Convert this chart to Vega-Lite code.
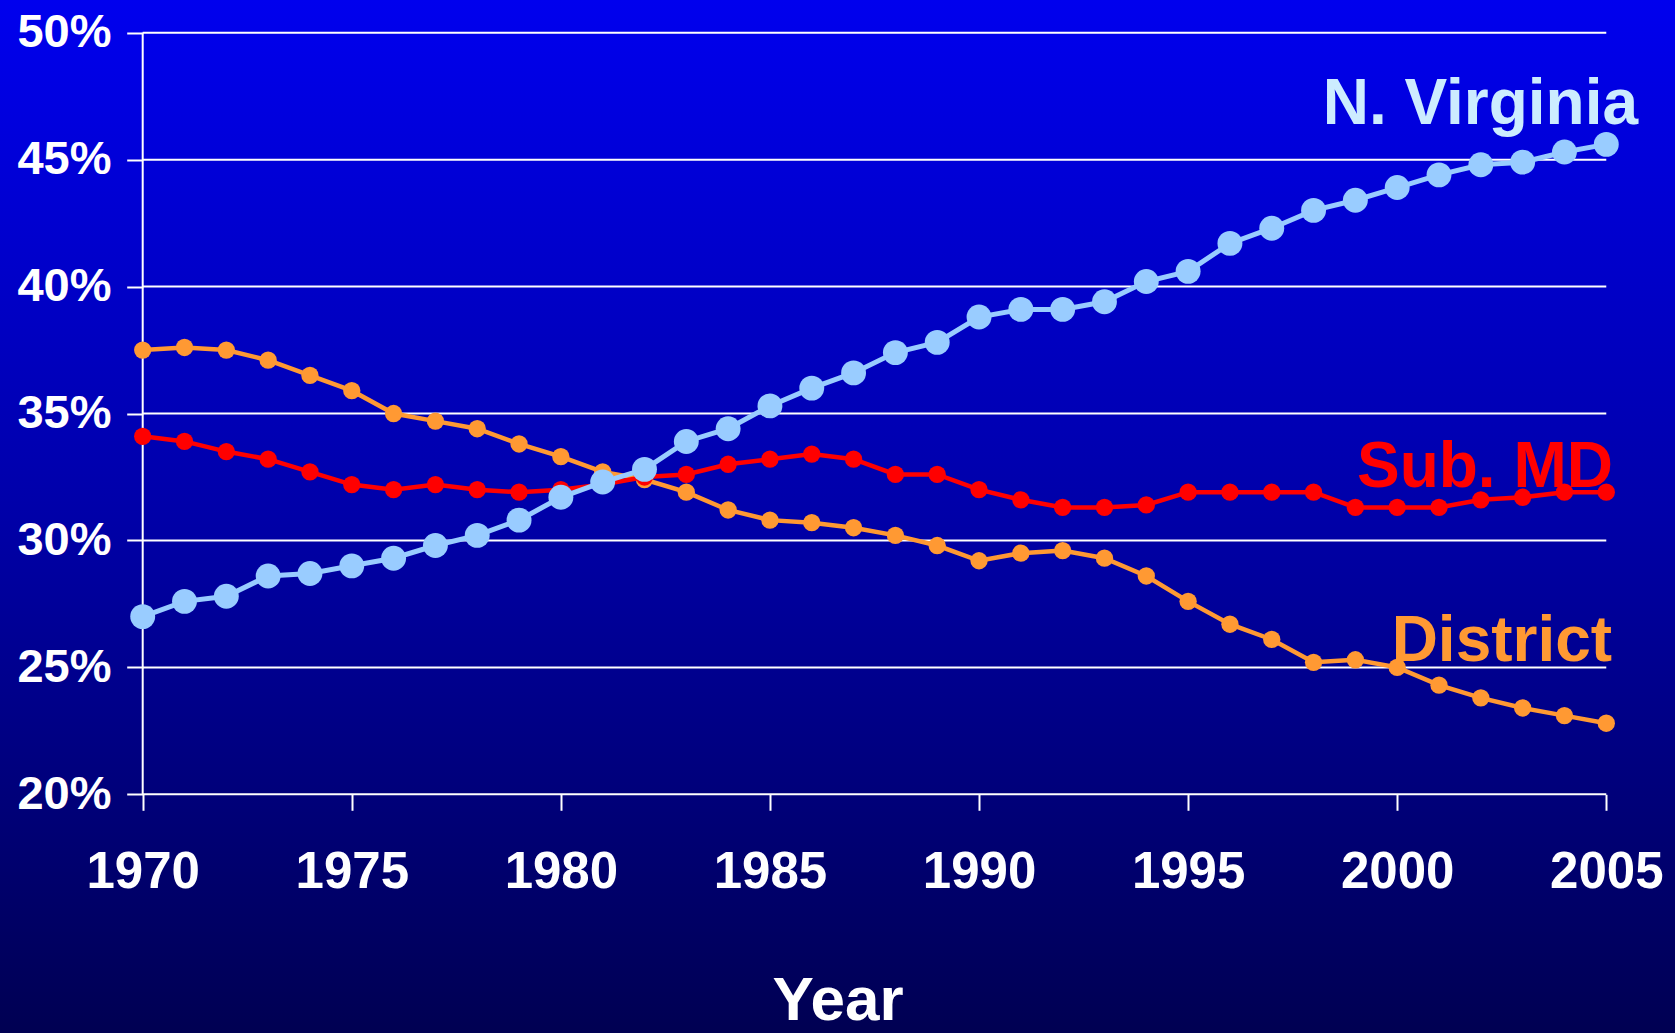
{
  "$schema": "https://vega.github.io/schema/vega-lite/v6.json",
  "width": 1675,
  "height": 1033,
  "autosize": "none",
  "padding": 0,
  "background": "#000060",
  "datasets": {
    "shares": [
      {"year": 1970, "series": "District", "value": 37.5},
      {"year": 1971, "series": "District", "value": 37.6},
      {"year": 1972, "series": "District", "value": 37.5},
      {"year": 1973, "series": "District", "value": 37.1},
      {"year": 1974, "series": "District", "value": 36.5},
      {"year": 1975, "series": "District", "value": 35.9},
      {"year": 1976, "series": "District", "value": 35.0},
      {"year": 1977, "series": "District", "value": 34.7},
      {"year": 1978, "series": "District", "value": 34.4},
      {"year": 1979, "series": "District", "value": 33.8},
      {"year": 1980, "series": "District", "value": 33.3},
      {"year": 1981, "series": "District", "value": 32.7},
      {"year": 1982, "series": "District", "value": 32.4},
      {"year": 1983, "series": "District", "value": 31.9},
      {"year": 1984, "series": "District", "value": 31.2},
      {"year": 1985, "series": "District", "value": 30.8},
      {"year": 1986, "series": "District", "value": 30.7},
      {"year": 1987, "series": "District", "value": 30.5},
      {"year": 1988, "series": "District", "value": 30.2},
      {"year": 1989, "series": "District", "value": 29.8},
      {"year": 1990, "series": "District", "value": 29.2},
      {"year": 1991, "series": "District", "value": 29.5},
      {"year": 1992, "series": "District", "value": 29.6},
      {"year": 1993, "series": "District", "value": 29.3},
      {"year": 1994, "series": "District", "value": 28.6},
      {"year": 1995, "series": "District", "value": 27.6},
      {"year": 1996, "series": "District", "value": 26.7},
      {"year": 1997, "series": "District", "value": 26.1},
      {"year": 1998, "series": "District", "value": 25.2},
      {"year": 1999, "series": "District", "value": 25.3},
      {"year": 2000, "series": "District", "value": 25.0},
      {"year": 2001, "series": "District", "value": 24.3},
      {"year": 2002, "series": "District", "value": 23.8},
      {"year": 2003, "series": "District", "value": 23.4},
      {"year": 2004, "series": "District", "value": 23.1},
      {"year": 2005, "series": "District", "value": 22.8},
      {"year": 1970, "series": "Sub. MD", "value": 34.1},
      {"year": 1971, "series": "Sub. MD", "value": 33.9},
      {"year": 1972, "series": "Sub. MD", "value": 33.5},
      {"year": 1973, "series": "Sub. MD", "value": 33.2},
      {"year": 1974, "series": "Sub. MD", "value": 32.7},
      {"year": 1975, "series": "Sub. MD", "value": 32.2},
      {"year": 1976, "series": "Sub. MD", "value": 32.0},
      {"year": 1977, "series": "Sub. MD", "value": 32.2},
      {"year": 1978, "series": "Sub. MD", "value": 32.0},
      {"year": 1979, "series": "Sub. MD", "value": 31.9},
      {"year": 1980, "series": "Sub. MD", "value": 32.0},
      {"year": 1981, "series": "Sub. MD", "value": 32.2},
      {"year": 1982, "series": "Sub. MD", "value": 32.5},
      {"year": 1983, "series": "Sub. MD", "value": 32.6},
      {"year": 1984, "series": "Sub. MD", "value": 33.0},
      {"year": 1985, "series": "Sub. MD", "value": 33.2},
      {"year": 1986, "series": "Sub. MD", "value": 33.4},
      {"year": 1987, "series": "Sub. MD", "value": 33.2},
      {"year": 1988, "series": "Sub. MD", "value": 32.6},
      {"year": 1989, "series": "Sub. MD", "value": 32.6},
      {"year": 1990, "series": "Sub. MD", "value": 32.0},
      {"year": 1991, "series": "Sub. MD", "value": 31.6},
      {"year": 1992, "series": "Sub. MD", "value": 31.3},
      {"year": 1993, "series": "Sub. MD", "value": 31.3},
      {"year": 1994, "series": "Sub. MD", "value": 31.4},
      {"year": 1995, "series": "Sub. MD", "value": 31.9},
      {"year": 1996, "series": "Sub. MD", "value": 31.9},
      {"year": 1997, "series": "Sub. MD", "value": 31.9},
      {"year": 1998, "series": "Sub. MD", "value": 31.9},
      {"year": 1999, "series": "Sub. MD", "value": 31.3},
      {"year": 2000, "series": "Sub. MD", "value": 31.3},
      {"year": 2001, "series": "Sub. MD", "value": 31.3},
      {"year": 2002, "series": "Sub. MD", "value": 31.6},
      {"year": 2003, "series": "Sub. MD", "value": 31.7},
      {"year": 2004, "series": "Sub. MD", "value": 31.9},
      {"year": 2005, "series": "Sub. MD", "value": 31.9},
      {"year": 1970, "series": "N. Virginia", "value": 27.0},
      {"year": 1971, "series": "N. Virginia", "value": 27.6},
      {"year": 1972, "series": "N. Virginia", "value": 27.8},
      {"year": 1973, "series": "N. Virginia", "value": 28.6},
      {"year": 1974, "series": "N. Virginia", "value": 28.7},
      {"year": 1975, "series": "N. Virginia", "value": 29.0},
      {"year": 1976, "series": "N. Virginia", "value": 29.3},
      {"year": 1977, "series": "N. Virginia", "value": 29.8},
      {"year": 1978, "series": "N. Virginia", "value": 30.2},
      {"year": 1979, "series": "N. Virginia", "value": 30.8},
      {"year": 1980, "series": "N. Virginia", "value": 31.7},
      {"year": 1981, "series": "N. Virginia", "value": 32.3},
      {"year": 1982, "series": "N. Virginia", "value": 32.8},
      {"year": 1983, "series": "N. Virginia", "value": 33.9},
      {"year": 1984, "series": "N. Virginia", "value": 34.4},
      {"year": 1985, "series": "N. Virginia", "value": 35.3},
      {"year": 1986, "series": "N. Virginia", "value": 36.0},
      {"year": 1987, "series": "N. Virginia", "value": 36.6},
      {"year": 1988, "series": "N. Virginia", "value": 37.4},
      {"year": 1989, "series": "N. Virginia", "value": 37.8},
      {"year": 1990, "series": "N. Virginia", "value": 38.8},
      {"year": 1991, "series": "N. Virginia", "value": 39.1},
      {"year": 1992, "series": "N. Virginia", "value": 39.1},
      {"year": 1993, "series": "N. Virginia", "value": 39.4},
      {"year": 1994, "series": "N. Virginia", "value": 40.2},
      {"year": 1995, "series": "N. Virginia", "value": 40.6},
      {"year": 1996, "series": "N. Virginia", "value": 41.7},
      {"year": 1997, "series": "N. Virginia", "value": 42.3},
      {"year": 1998, "series": "N. Virginia", "value": 43.0},
      {"year": 1999, "series": "N. Virginia", "value": 43.4},
      {"year": 2000, "series": "N. Virginia", "value": 43.9},
      {"year": 2001, "series": "N. Virginia", "value": 44.4},
      {"year": 2002, "series": "N. Virginia", "value": 44.8},
      {"year": 2003, "series": "N. Virginia", "value": 44.9},
      {"year": 2004, "series": "N. Virginia", "value": 45.3},
      {"year": 2005, "series": "N. Virginia", "value": 45.6}
    ],
    "grid": [
      {"value": 20}, {"value": 25}, {"value": 30}, {"value": 35},
      {"value": 40}, {"value": 45}, {"value": 50}
    ],
    "labels": [
      {"year": 2005.76, "value": 46.4, "series": "N. Virginia", "label": "N. Virginia"},
      {"year": 2005.16, "value": 32.1, "series": "Sub. MD", "label": "Sub. MD"},
      {"year": 2005.14, "value": 25.25, "series": "District", "label": "District"}
    ]
  },
  "layer": [
    {
      "data": {"values": [{}]},
      "mark": {
        "type": "rect",
        "fill": {
          "gradient": "linear",
          "x1": 0, "y1": 0, "x2": 0, "y2": 1,
          "stops": [
            {"offset": 0, "color": "#0000EE"},
            {"offset": 0.5, "color": "#0000A8"},
            {"offset": 1, "color": "#000052"}
          ]
        }
      },
      "encoding": {
        "x": {
          "datum": 1966.5875,
          "type": "quantitative",
          "scale": {"domain": [1966.5875, 2006.6435], "nice": false, "zero": false},
          "axis": {
            "zindex": 2,
            "values": [1970, 1975, 1980, 1985, 1990, 1995, 2000, 2005],
            "format": "d",
            "title": "Year",
            "offset": -238.7,
            "labelPadding": 37,
            "labelFontSize": 51,
            "titleFontSize": 62,
            "titleBaseline": "alphabetic",
            "titleY": 225.5
          }
        },
        "x2": {"datum": 2006.6435},
        "y": {
          "datum": 51.288,
          "type": "quantitative",
          "scale": {"domain": [10.598, 51.288], "nice": false, "zero": false},
          "axis": {
            "zindex": 2,
            "values": [20, 25, 30, 35, 40, 45, 50],
            "labelExpr": "datum.value + '%'",
            "title": null,
            "offset": -142.7,
            "labelPadding": 15.7,
            "labelFontSize": 47
          }
        },
        "y2": {"datum": 10.598}
      }
    },
    {
      "data": {"name": "grid"},
      "mark": {"type": "rule", "color": "#FFFFFF", "strokeWidth": 2},
      "encoding": {
        "y": {"field": "value", "type": "quantitative", "scale": {"domain": [10.598, 51.288], "nice": false, "zero": false}},
        "x": {"datum": 1970, "type": "quantitative", "scale": {"domain": [1966.5875, 2006.6435], "nice": false, "zero": false}},
        "x2": {"datum": 2005}
      }
    },
    {
      "data": {"values": [{}]},
      "mark": {"type": "rule", "color": "#FFFFFF", "strokeWidth": 2},
      "encoding": {
        "x": {"datum": 1970, "type": "quantitative", "scale": {"domain": [1966.5875, 2006.6435], "nice": false, "zero": false}},
        "y": {"datum": 20, "type": "quantitative", "scale": {"domain": [10.598, 51.288], "nice": false, "zero": false}},
        "y2": {"datum": 50}
      }
    },
    {
      "data": {"name": "shares"},
      "transform": [{"filter": "datum.series == 'District'"}],
      "mark": {"type": "line", "strokeWidth": 4.5, "point": {"filled": true, "size": 300, "opacity": 1}},
      "encoding": {
        "x": {"field": "year", "type": "quantitative", "scale": {"domain": [1966.5875, 2006.6435], "nice": false, "zero": false}},
        "y": {"field": "value", "type": "quantitative", "scale": {"domain": [10.598, 51.288], "nice": false, "zero": false}},
        "color": {"field": "series", "type": "nominal", "scale": {"domain": ["N. Virginia", "Sub. MD", "District"], "range": ["#99CCFF", "#FF0000", "#FF9933"]}, "legend": null}
      }
    },
    {
      "data": {"name": "shares"},
      "transform": [{"filter": "datum.series == 'Sub. MD'"}],
      "mark": {"type": "line", "strokeWidth": 4.5, "point": {"filled": true, "size": 300, "opacity": 1}},
      "encoding": {
        "x": {"field": "year", "type": "quantitative", "scale": {"domain": [1966.5875, 2006.6435], "nice": false, "zero": false}},
        "y": {"field": "value", "type": "quantitative", "scale": {"domain": [10.598, 51.288], "nice": false, "zero": false}},
        "color": {"field": "series", "type": "nominal", "legend": null}
      }
    },
    {
      "data": {"name": "shares"},
      "transform": [{"filter": "datum.series == 'N. Virginia'"}],
      "mark": {"type": "line", "strokeWidth": 5, "point": {"filled": true, "size": 620, "opacity": 1}},
      "encoding": {
        "x": {"field": "year", "type": "quantitative", "scale": {"domain": [1966.5875, 2006.6435], "nice": false, "zero": false}},
        "y": {"field": "value", "type": "quantitative", "scale": {"domain": [10.598, 51.288], "nice": false, "zero": false}},
        "color": {"field": "series", "type": "nominal", "legend": null}
      }
    },
    {
      "data": {"name": "labels"},
      "mark": {"type": "text", "align": "right", "baseline": "alphabetic", "fontSize": 64, "fontWeight": "bold", "font": "Liberation Sans"},
      "encoding": {
        "x": {"field": "year", "type": "quantitative", "scale": {"domain": [1966.5875, 2006.6435], "nice": false, "zero": false}},
        "y": {"field": "value", "type": "quantitative", "scale": {"domain": [10.598, 51.288], "nice": false, "zero": false}},
        "text": {"field": "label"},
        "color": {
          "field": "series",
          "type": "nominal",
          "scale": {"domain": ["N. Virginia", "Sub. MD", "District"], "range": ["#99CCFF", "#FF0000", "#FF9933"]},
          "legend": null
        },
        "fill": {
          "field": "label",
          "type": "nominal",
          "scale": {"domain": ["N. Virginia", "Sub. MD", "District"], "range": ["#CCECFF", "#FF0000", "#FF9933"]},
          "legend": null
        }
      }
    }
  ],
  "config": {
    "view": {"stroke": null},
    "axis": {
      "grid": false,
      "domain": false,
      "ticks": true,
      "tickSize": 16,
      "tickColor": "#FFFFFF",
      "tickWidth": 2,
      "labelColor": "#FFFFFF",
      "labelFont": "Liberation Sans",
      "labelFontWeight": "bold",
      "labelFlush": false,
      "labelOverlap": false,
      "titleColor": "#FFFFFF",
      "titleFont": "Liberation Sans",
      "titleFontWeight": "bold"
    }
  }
}
